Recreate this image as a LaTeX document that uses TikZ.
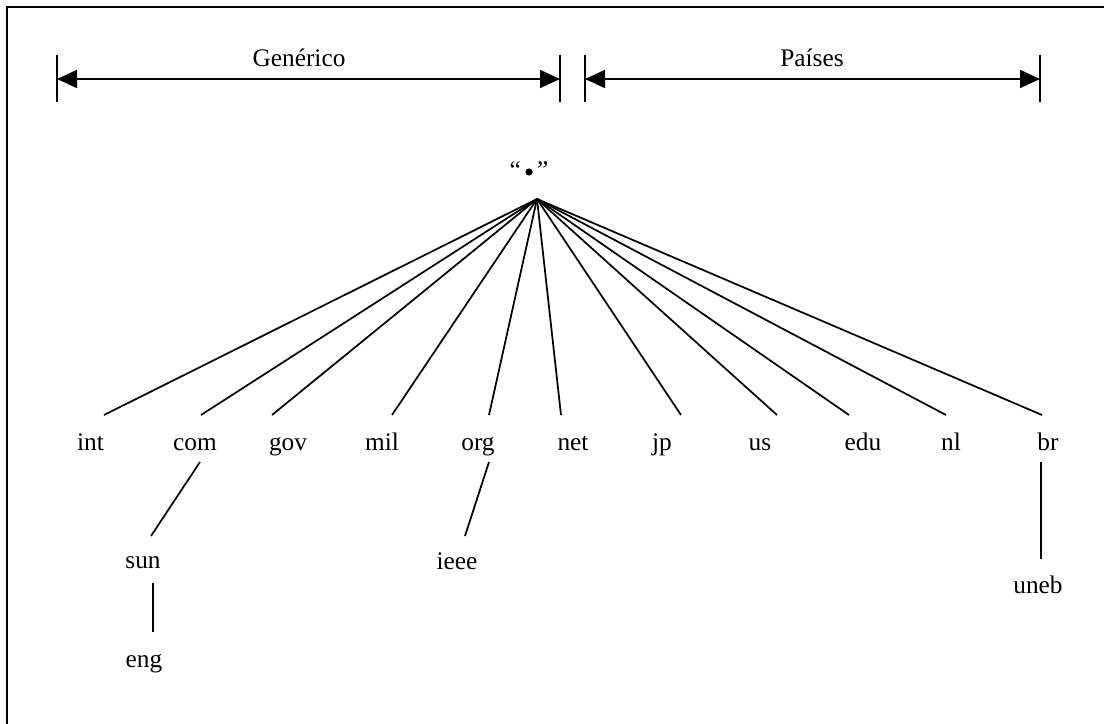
\documentclass[tikz,border=0pt]{standalone}
\usepackage{fontspec}
\setmainfont{Liberation Serif}
\usetikzlibrary{arrows.meta}
\begin{document}
\begin{tikzpicture}[x=0.75pt,y=-0.75pt,
  lbl/.style={anchor=base,inner sep=0pt,font=\fontsize{19}{22}\selectfont},
  edge/.style={line width=1.3pt},
  span/.style={line width=1.3pt,{Triangle[length=15pt,width=13.5pt]}-{Triangle[length=15pt,width=13.5pt]}},
  tick/.style={line width=1.2pt}]
\useasboundingbox (0,0) rectangle (1104,724);
\draw[line width=1.5pt] (7,7) rectangle (1115,735);
% spans
\coordinate (gL) at (57,79); \coordinate (gR) at (560,79);
\coordinate (pL) at (585,79); \coordinate (pR) at (1040,79);
\draw[tick] (57,55) -- (57,102);
\draw[tick] (560,55) -- (560,102);
\draw[tick] (585,55) -- (585,102);
\draw[tick] (1040,55) -- (1040,102);
\draw[span] (gL) -- (gR);
\draw[span] (pL) -- (pR);
\node[lbl] (gen) at (299,67) {Genérico};
\node[lbl] (pai) at (812,67) {Países};
% root
\node[lbl] (rootlbl) at (529,178) {“\hspace{0.65em}”};
\fill (529,172) circle (3.6);
\coordinate (root) at (537,199);
% level 1
\foreach \n/\x/\t in {int/90.5/int,com/195/com,gov/288/gov,mil/382/mil,org/478/org,net/573/net,jp/662/jp,us/760/us,edu/863/edu,nl/951/nl,br/1048/br}
  \node[lbl] (\n) at (\x,450) {\t};
\foreach \n/\x in {int/104,com/201,gov/272,mil/392,org/489,net/561,jp/681,us/777,edu/849,nl/946,br/1042}{
  \coordinate (\n-t) at (\x,415);
  \draw[edge] (root) -- (\n-t);
}
% level 2
\node[lbl] (sun) at (143,568) {sun};
\node[lbl] (eng) at (144,667) {eng};
\node[lbl] (ieee) at (457,569) {ieee};
\node[lbl] (uneb) at (1038,593) {uneb};
\coordinate (com-b) at (200,462); \coordinate (sun-t) at (151,536);
\coordinate (sun-b) at (153,583); \coordinate (eng-t) at (153,632);
\coordinate (org-b) at (489,462); \coordinate (ieee-t) at (465,536);
\coordinate (br-b) at (1041,462); \coordinate (uneb-t) at (1041,559);
\draw[edge] (com-b) -- (sun-t);
\draw[edge] (sun-b) -- (eng-t);
\draw[edge] (org-b) -- (ieee-t);
\draw[edge] (br-b) -- (uneb-t);
\end{tikzpicture}
\end{document}
